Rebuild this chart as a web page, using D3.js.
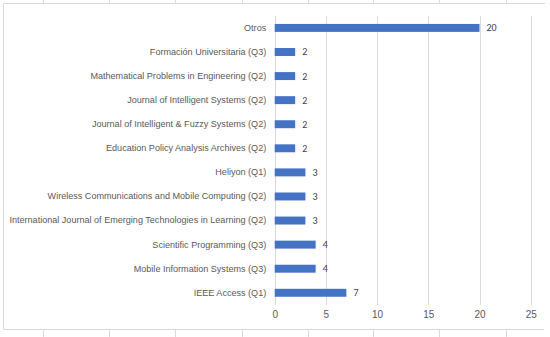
<!DOCTYPE html>
<html>
<head>
<meta charset="utf-8">
<script src="https://cdn.jsdelivr.net/npm/d3@7"></script>
<style>
  body { margin: 0; background: #fff; }
  svg { display: block; font-family: Calibri, Carlito, "Liberation Sans Narrow", "Liberation Sans", sans-serif; }
</style>
</head>
<body>
<figure id="chart" style="margin:0"></figure>
<script>
let widthFigure = 550;
let heightFigure = 337;

let journals = [
    'Otros',
    'Formación Universitaria (Q3)',
    'Mathematical Problems in Engineering (Q2)',
    'Journal of Intelligent Systems (Q2)',
    'Journal of Intelligent & Fuzzy Systems (Q2)',
    'Education Policy Analysis Archives (Q2)',
    'Heliyon (Q1)',
    'Wireless Communications and Mobile Computing (Q2)',
    'International Journal of Emerging Technologies in Learning (Q2)',
    'Scientific Programming (Q3)',
    'Mobile Information Systems (Q3)',
    'IEEE Access (Q1)'
];
let counts = [20, 2, 2, 2, 2, 2, 3, 3, 3, 4, 4, 7];
let xTicks = [0, 5, 10, 15, 20, 25];
let cellEdges = [43, 109, 175, 242, 308, 373, 439, 506];

let data = journals.map((j, i) => ({ name: j, value: counts[i] }));

let svg = d3.select('#chart')
    .append('svg')
    .attr('width', widthFigure)
    .attr('height', heightFigure);

// frame of the chart object
let frame = svg.append('g')
    .attr('stroke', '#d9d9d9')
    .attr('fill', 'none');
frame.append('path').attr('d', 'M3.5,329.5V3.5H545');
frame.append('path').attr('d', 'M3.5,329.5H544');
cellEdges.forEach(x => {
    frame.append('line').attr('x1', x + 0.5).attr('x2', x + 0.5).attr('y1', 0).attr('y2', 3);
    frame.append('line').attr('x1', x + 0.5).attr('x2', x + 0.5).attr('y1', 330).attr('y2', 337);
});

let xScale = d3.scaleLinear()
    .domain([0, 25])
    .range([274.7, 530.7]);

let yScale = d3.scaleBand()
    .domain(journals)
    .range([16, 304.7])
    .paddingInner(0.67)
    .paddingOuter(0.33);

// gridlines
svg.append('g')
    .selectAll('line')
    .data(xTicks)
    .enter()
    .append('line')
    .attr('x1', d => Math.round(xScale(d)) + 0.5)
    .attr('x2', d => Math.round(xScale(d)) + 0.5)
    .attr('y1', 16)
    .attr('y2', 305)
    .attr('stroke', '#d9d9d9');

let fontSize = 10;

// x axis labels
let xAxis = d3.axisBottom(xScale)
    .tickValues(xTicks)
    .tickSize(0)
    .tickPadding(0);
let gx = svg.append('g')
    .attr('transform', 'translate(0,311)')
    .call(xAxis);
gx.select('.domain').remove();
gx.selectAll('text')
    .attr('fill', '#595959')
    .attr('font-size', fontSize + 'px')
    .attr('font-family', 'inherit');

// category labels
let yAxis = d3.axisLeft(yScale).tickSize(0).tickPadding(8.5);
let gy = svg.append('g')
    .attr('transform', 'translate(274.7,0)')
    .call(yAxis);
gy.select('.domain').remove();
let labels = gy.selectAll('text')
    .attr('fill', '#595959')
    .attr('font-size', fontSize + 'px')
    .attr('font-family', 'inherit');

// keep the longest label inside the frame, as in the original
let longest = d3.max(labels.nodes(), n => n.getComputedTextLength());
if (longest > 257) {
    labels.attr('font-size', (fontSize * 257 / longest) + 'px');
}

// bars
svg.selectAll('rect.bar')
    .data(data)
    .enter()
    .append('rect')
    .attr('class', 'bar')
    .attr('x', xScale(0))
    .attr('y', d => yScale(d.name))
    .attr('width', d => xScale(d.value) - xScale(0))
    .attr('height', yScale.bandwidth())
    .attr('fill', '#4472c4');

// value labels
svg.selectAll('text.val')
    .data(data)
    .enter()
    .append('text')
    .attr('class', 'val')
    .attr('x', d => xScale(d.value) + 7)
    .attr('y', d => yScale(d.name) + yScale.bandwidth() / 2)
    .attr('dy', '0.35em')
    .attr('fill', '#404040')
    .attr('font-size', fontSize + 'px')
    .text(d => d.value);
</script>
</body>
</html>
